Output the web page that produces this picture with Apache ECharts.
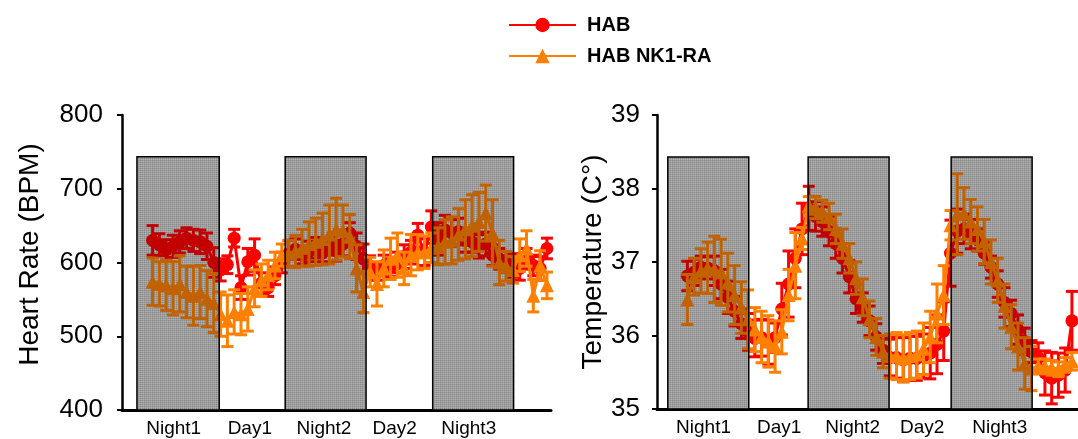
<!DOCTYPE html>
<html><head><meta charset="utf-8">
<script src="https://cdn.jsdelivr.net/npm/echarts@6/dist/echarts.min.js"></script>
<style>html,body{margin:0;padding:0;background:#fff}#c{width:1078px;height:439px}</style>
</head><body><div id="c"></div>
<script>
// ---- data ----
const periodLabels = ['Night1', 'Day1', 'Night2', 'Day2', 'Night3'];
const hrLabelPos = [7.6, 18.8, 29.7, 40.1, 51.0];
const tLabelPos = [6.9, 18.1, 29.0, 39.3, 50.8];
const hrNights = [[2.2, 14.3], [24.0, 35.9], [45.7, 57.6]];
const tNights = [[1.6, 13.6], [22.4, 34.4], [43.6, 55.6]];
const hrNightTop = 743.5;
const tNightTop = 38.43;
const hrFirstHour = 4.5;
const tFirstHour = 4.5;
const hrTicks = [400, 800, 100];
const tTicks = [35, 39, 1];

const hrHAB = [630,624,617,622,628,633,630,628,622,600,
  590,597,633,566,601,610,572,566,582,600,
  612,618,610,615,620,613,622,616,625,640,622,605,
  595,588,596,593,600,608,614,637,614,648,
  632,644,640,642,630,628,622,625,610,605,601,596,
  592,605,596,592,619];
const hrHABErr = [20,15,14,15,15,14,15,16,18,20,
  15,12,12,16,18,22,14,12,12,14,
  18,14,12,14,14,12,12,14,16,14,18,20,
  14,12,14,12,14,16,16,16,18,22,
  22,20,18,18,16,14,16,16,14,14,14,16,
  16,14,14,16,14];
const hrNK = [574,571,569,565,571,560,555,560,551,545,
  530,521,533,530,537,565,576,583,596,610,
  612,615,620,625,628,632,638,645,643,635,592,560,
  587,571,592,605,610,592,610,614,614,620,
  622,628,630,638,645,650,655,667,640,600,595,590,
  610,619,555,596,569];
const hrNKErr = [32,30,34,36,38,35,40,36,38,40,
  30,35,30,28,30,25,22,20,18,15,
  18,22,25,30,32,35,40,42,35,30,32,28,
  20,30,25,28,30,22,28,24,22,20,
  25,30,32,35,40,42,40,38,45,30,20,18,
  22,24,22,20,18];

const tHAB = [36.81,36.86,36.93,36.92,36.88,36.70,36.52,36.33,36.16,36.05,
  35.96,35.97,35.91,35.97,36.36,36.70,37.05,37.45,37.73,37.62,
  37.55,37.42,37.25,37.05,36.80,36.50,36.38,36.20,35.98,35.80,
  35.70,35.70,35.67,35.69,35.69,35.72,35.76,35.88,36.06,37.12,
  37.42,37.45,37.38,37.30,37.12,36.93,36.70,36.45,36.30,36.08,
  35.92,35.78,35.70,35.49,35.42,35.46,35.53,36.20];
const tHABErr = [0.2,0.18,0.15,0.15,0.2,0.2,0.22,0.2,0.2,0.25,
  0.25,0.25,0.3,0.2,0.35,0.45,0.4,0.35,0.3,0.2,
  0.2,0.2,0.2,0.2,0.22,0.2,0.2,0.2,0.18,0.18,
  0.25,0.28,0.3,0.3,0.3,0.3,0.35,0.4,0.4,0.45,
  0.3,0.2,0.2,0.15,0.15,0.15,0.18,0.2,0.18,0.2,
  0.18,0.15,0.2,0.3,0.35,0.3,0.3,0.4];
const tNK = [36.49,36.80,36.88,36.92,36.90,36.86,36.72,36.55,36.38,36.22,
  36.08,35.98,35.92,35.85,36.05,36.55,36.95,37.32,37.77,37.74,
  37.69,37.62,37.45,37.25,37.05,36.78,36.52,36.22,35.98,35.78,
  35.72,35.72,35.69,35.72,35.74,35.82,35.98,36.30,36.55,37.50,
  37.65,37.66,37.55,37.45,37.28,37.00,36.75,36.40,36.12,35.85,
  35.62,35.55,35.58,35.58,35.56,35.54,35.60,35.65];
const tNKErr = [0.34,0.25,0.3,0.35,0.45,0.45,0.4,0.4,0.35,0.4,
  0.3,0.35,0.35,0.35,0.3,0.35,0.45,0.15,0.12,0.15,
  0.15,0.18,0.2,0.2,0.2,0.22,0.25,0.25,0.25,0.22,
  0.3,0.32,0.32,0.32,0.32,0.35,0.35,0.4,0.4,0.2,
  0.55,0.35,0.3,0.3,0.3,0.3,0.3,0.3,0.3,0.32,
  0.35,0.3,0.1,0.1,0.1,0.1,0.1,0.12];

// ---- styling ----
const RED = '#ff0000';
const ORANGE = '#ff8000';
const FONT = 'Liberation Sans, Arial, sans-serif';

const pc = document.createElement('canvas');
pc.width = 2; pc.height = 2;
const g = pc.getContext('2d');
g.fillStyle = '#b2b2b2'; g.fillRect(0, 0, 1, 1);
g.fillStyle = '#d2d2d2'; g.fillRect(1, 0, 1, 1); g.fillRect(0, 1, 1, 1);
g.fillStyle = '#e8e8e8'; g.fillRect(1, 1, 1, 1);
const nightFill = { image: pc, repeat: 'repeat' };

function pts(vals, first) { return vals.map((v, i) => [first + i, v]); }
function errData(vals, errs, first) { return vals.map((v, i) => [first + i, v - errs[i], v + errs[i]]); }

function lineSeries(name, gi, vals, first, color, symbol, size, z) {
  return {
    type: 'line', name, xAxisIndex: gi, yAxisIndex: gi, data: pts(vals, first),
    symbol, symbolSize: size, showAllSymbol: true, z,
    itemStyle: { color }, lineStyle: { color, width: 3 },
    animation: false
  };
}
function errSeries(gi, vals, errs, first, color, z) {
  return {
    type: 'custom', xAxisIndex: gi, yAxisIndex: gi, z, silent: true, animation: false,
    data: errData(vals, errs, first), encode: { x: 0, y: [1, 2] },
    renderItem: (p, api) => {
      const x = api.value(0);
      const lo = api.coord([x, api.value(1)]);
      const hi = api.coord([x, api.value(2)]);
      const w = 6, st = { stroke: color, lineWidth: 3 };
      return { type: 'group', children: [
        { type: 'line', shape: { x1: lo[0], y1: lo[1], x2: hi[0], y2: hi[1] }, style: st },
        { type: 'line', shape: { x1: lo[0] - w, y1: lo[1], x2: lo[0] + w, y2: lo[1] }, style: st },
        { type: 'line', shape: { x1: hi[0] - w, y1: hi[1], x2: hi[0] + w, y2: hi[1] }, style: st }
      ]};
    }
  };
}
// night band: textured gray under the data, plus a darkening veil with border above it
function nightSeries(gi, nights, top, bottom, over) {
  return {
    type: 'custom', xAxisIndex: gi, yAxisIndex: gi, z: over ? 10 : 1, silent: true, animation: false,
    data: nights, encode: { x: [0, 1] },
    renderItem: (p, api) => {
      const a = api.coord([api.value(0), top]);
      const b = api.coord([api.value(1), bottom]);
      return { type: 'rect', shape: { x: a[0], y: a[1], width: b[0] - a[0], height: b[1] - a[1] },
        style: over ? { fill: 'rgba(0,0,0,0.24)', stroke: '#000', lineWidth: 1.5 }
                    : { fill: nightFill } };
    }
  };
}
function xAxisDef(gi, max, pos) {
  return {
    type: 'value', gridIndex: gi, min: 0, max,
    axisLine: { show: true, lineStyle: { color: '#000', width: 3 } },
    axisTick: { show: false }, splitLine: { show: false },
    axisLabel: {
      customValues: pos, color: '#000', fontSize: 19, fontFamily: FONT, margin: 9,
      formatter: (v) => {
        let best = 0;
        pos.forEach((p, i) => { if (Math.abs(p - v) < Math.abs(pos[best] - v)) best = i; });
        return periodLabels[best];
      }
    }
  };
}
function yAxisDef(gi, ticks, name, gap, margin, namePad) {
  return {
    type: 'value', gridIndex: gi, min: ticks[0], max: ticks[1], interval: ticks[2],
    axisLine: { show: true, lineStyle: { color: '#000', width: 2.5 } },
    axisTick: { show: true, length: 5, lineStyle: { color: '#000', width: 2 } },
    splitLine: { show: false },
    axisLabel: { color: '#000', fontSize: 26, fontFamily: FONT, margin },
    name, nameLocation: 'middle', nameGap: gap,
    nameTextStyle: { color: '#000', fontSize: 28, fontFamily: FONT, padding: namePad }
  };
}

const chart = echarts.init(document.getElementById('c'), null, { renderer: 'canvas' });
chart.setOption({
  animation: false,
  backgroundColor: '#fff',
  legend: {
    data: ['HAB', 'HAB NK1-RA'], orient: 'vertical', left: 508, top: 15, padding: 0,
    itemWidth: 67, itemHeight: 18, itemGap: 11,
    textStyle: { color: '#000', fontSize: 20, fontWeight: 'bold', fontFamily: FONT, padding: [0, 0, 0, 6] }
  },
  grid: [
    { left: 122, right: 527, top: 115, bottom: 29 },
    { left: 657, right: 0, top: 115, bottom: 30 }
  ],
  xAxis: [xAxisDef(0, 63.1, hrLabelPos), xAxisDef(1, 62.4, tLabelPos)],
  yAxis: [yAxisDef(0, hrTicks, 'Heart Rate (BPM)', 78, 19, [0, 0, 0, 16]),
          yAxisDef(1, tTicks, 'Temperature (C°)', 50, 17, [0, 0, 0, 0])],
  series: [
    nightSeries(0, hrNights, hrNightTop, hrTicks[0], false),
    errSeries(0, hrHAB, hrHABErr, hrFirstHour, RED, 2),
    lineSeries('HAB', 0, hrHAB, hrFirstHour, RED, 'circle', 13, 3),
    errSeries(0, hrNK, hrNKErr, hrFirstHour, ORANGE, 4),
    lineSeries('HAB NK1-RA', 0, hrNK, hrFirstHour, ORANGE, 'triangle', 14, 5),
    nightSeries(0, hrNights, hrNightTop, hrTicks[0], true),
    nightSeries(1, tNights, tNightTop, tTicks[0], false),
    errSeries(1, tHAB, tHABErr, tFirstHour, RED, 2),
    lineSeries('HAB', 1, tHAB, tFirstHour, RED, 'circle', 13, 3),
    errSeries(1, tNK, tNKErr, tFirstHour, ORANGE, 4),
    lineSeries('HAB NK1-RA', 1, tNK, tFirstHour, ORANGE, 'triangle', 14, 5),
    nightSeries(1, tNights, tNightTop, tTicks[0], true)
  ]
});
</script></body></html>
